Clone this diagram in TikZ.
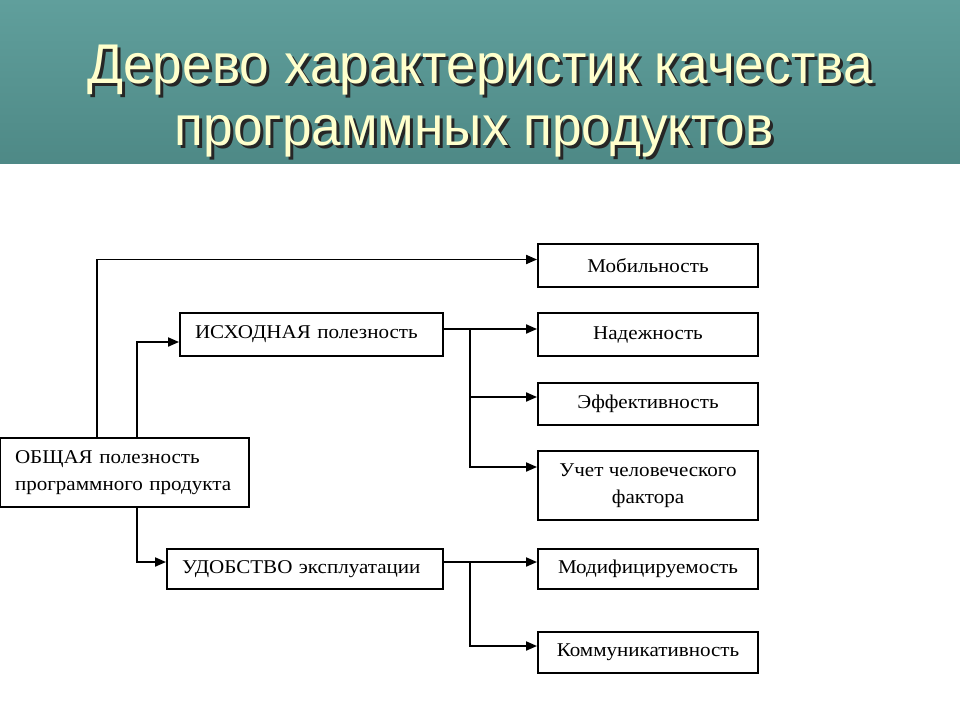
\documentclass[tikz,border=0pt]{standalone}
\usepackage{fontspec}
\setmainfont{Liberation Serif}[FakeStretch=1.08]
\newfontfamily\headfont{Liberation Sans}[FakeStretch=0.95]
\usetikzlibrary{arrows.meta}
\definecolor{bandtop}{RGB}{96,159,156}
\definecolor{bandbot}{RGB}{78,137,134}
\definecolor{headtxt}{RGB}{255,255,204}
\newcommand\shtext[1]{\makebox[0pt][l]{\kern3pt\raisebox{-3pt}{\textcolor{black!85}{#1}}}\textcolor{headtxt}{#1}}
\tikzset{
  box/.style={draw=black,line width=1.9pt,fill=white,font=\fontsize{19.5}{27}\selectfont,inner sep=0pt},
  rbox/.style={box,minimum width=220pt,align=center},
  lbox/.style={box,align=left,inner xsep=15pt},
  link/.style={line width=1.9pt},
  arr/.style={link,-{Triangle[length=11pt,width=9pt]}},
  headline/.style={font=\headfont\fontsize{56}{60}\selectfont,anchor=base,inner sep=0pt}
}
\begin{document}
\begin{tikzpicture}[x=1pt,y=-1pt]
\useasboundingbox (0,0) rectangle (960,720);
\fill[white] (0,0) rectangle (960,720);
\shade[top color=bandtop,bottom color=bandbot] (0,0) rectangle (960,163);
% title
\node[headline] (t1) at (480,83) {\shtext{Дерево характеристик качества}};
\node[headline] (t2) at (474,145) {\shtext{программных продуктов}};
% left boxes
\node[lbox,text width=219pt,minimum height=69pt] (obsh) at (124.5,472.5) {ОБЩАЯ полезность\\программного продукта};
\node[lbox,text width=233pt,minimum height=43pt] (isx) at (311.5,334.5) {ИСХОДНАЯ полезность};
\node[lbox,text width=246pt,minimum height=40pt] (udob) at (305,569) {УДОБСТВО эксплуатации};
% right boxes
\node[rbox,minimum height=43pt] (mob) at (648,265.5) {Мобильность};
\node[rbox,minimum height=43pt] (nad) at (648,334.5) {Надежность};
\node[rbox,minimum height=42pt] (eff) at (648,404) {Эффективность};
\node[rbox,minimum height=69pt] (uch) at (648,485.5) {Учет человеческого\\фактора};
\node[rbox,minimum height=40pt] (mod) at (648,569) {Модифицируемость};
\node[rbox,minimum height=41pt] (kom) at (648,652.5) {Коммуникативность};
% junctions
\coordinate (j1) at (470,329);
\coordinate (j2) at (470,562);
% connectors
\draw[arr] ([xshift=98pt]obsh.north west) |- ([yshift=6pt]mob.west);
\draw[arr] ([xshift=138pt]obsh.north west) |- ([yshift=-7.5pt]isx.west);
\draw[arr] ([xshift=138pt]obsh.south west) |- ([yshift=7pt]udob.west);
\draw[link] (isx.east |- j1) -- (j1);
\draw[arr] (j1) -- (j1 -| nad.west);
\draw[arr] (j1) |- ([yshift=7pt]eff.west);
\draw[arr] (j1) |- ([yshift=18.5pt]uch.west);
\draw[link] (udob.east |- j2) -- (j2);
\draw[arr] (j2) -- (j2 -| mod.west);
\draw[arr] (j2) |- ([yshift=6.5pt]kom.west);
\end{tikzpicture}
\end{document}
